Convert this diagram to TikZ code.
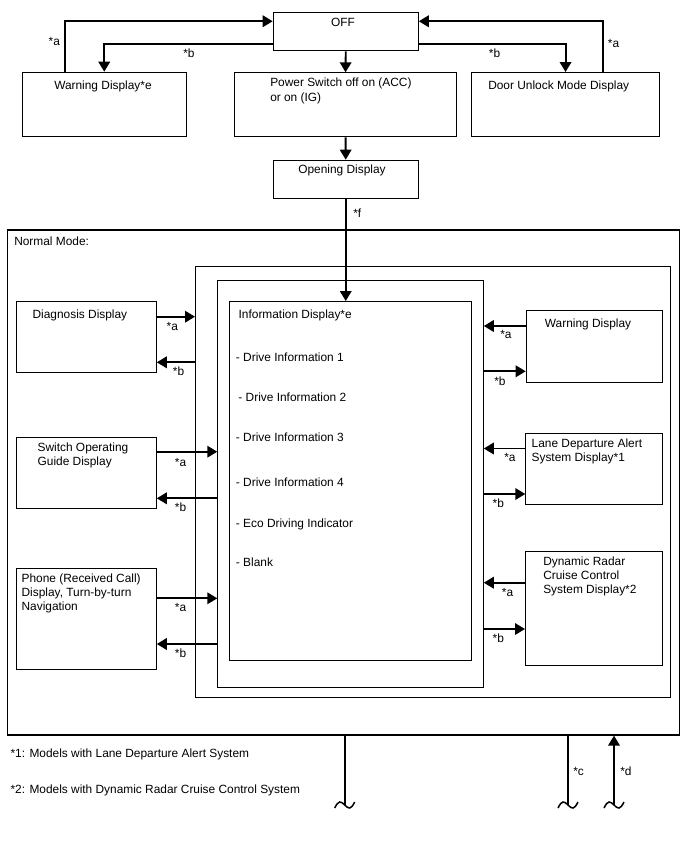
\documentclass[tikz,border=0pt]{standalone}
\usepackage{fontspec}
\setmainfont{Liberation Sans}
\usetikzlibrary{arrows.meta}

\begin{document}
\begin{tikzpicture}[x=1pt, y=-1pt, -{Triangle[length=10pt,width=11.5pt]},
      line width=1.9pt, font=\fontsize{11.9}{14}\selectfont,
      disp/.style={rectangle, draw, line width=1.1pt, anchor=north west, inner sep=0pt},
      txt/.style={anchor=base west, inner sep=0pt, align=left},
      lbl/.style={anchor=base west, inner sep=0pt}]
      \useasboundingbox (0,0) rectangle (688,852);
      % off, warning, power, door, opening
      \node[disp, minimum width=145pt, minimum height=38pt] (off) at (272.7,12.3) {};
      \node[lbl, anchor=base] (off_t) at (343,26.3) {OFF};
      \node[disp, minimum width=164pt, minimum height=64.6pt] (warn_e) at (21.7,71.7) {};
      \node[txt] (warn_e_t) at (53.3,89.5) {Warning Display*e};
      \node[disp, minimum width=221.4pt, minimum height=64pt] (power) at (234.3,72.3) {};
      \node[txt] (power_t) at (269.3,101.6) {Power Switch off on (ACC)\\[1.6pt]or on (IG)};
      \node[disp, minimum width=187.4pt, minimum height=64.3pt] (door) at (471.3,72) {};
      \node[txt] (door_t) at (487.3,89.3) {Door Unlock Mode Display};
      \node[disp, minimum width=145pt, minimum height=38.3pt] (opening) at (272.7,159.7) {};
      \node[lbl, anchor=base] (opening_t) at (342,173.3) {Opening Display};
      \draw ([xshift=-39.4pt]warn_e.north) |- ([yshift=10.6pt]off.west);
      \draw ([yshift=-11.7pt]off.west) -| (warn_e.north);
      \draw (off.south) -- (power.north);
      \draw ([yshift=-11.7pt]off.east) -| (door.north);
      \draw ([xshift=37.3pt]door.north) |- ([yshift=10.6pt]off.east);
      \draw (power.south) -- (opening.north);
      \node[lbl] (a_warn_e) at (47.7,45) {*a};
      \node[lbl] (b_warn_e) at (182.3,57.7) {*b};
      \node[lbl] (b_door) at (488,57.3) {*b};
      \node[lbl] (a_door) at (607,47.7) {*a};
      % normal mode
      \node[disp, line width=1.3pt, minimum width=671.8pt, minimum height=505pt] (normal) at (6.7,229.3) {};
      \node[txt] (normal_t) at (13.3,245) {Normal Mode:};
      \node[disp, minimum width=475pt, minimum height=431.3pt] (outer) at (195,265.7) {};
      \node[disp, minimum width=265.4pt, minimum height=407pt] (middle) at (217.3,279.7) {};
      \node[disp, minimum width=242.3pt, minimum height=358.7pt] (info) at (228.7,301) {};
      \draw (opening.south) -- (opening.south |- info.north);
      \node[lbl] (f_lbl) at (352.3,217) {*f};
      % information display
      \node[txt] (info_t) at (237.7,318.3) {Information Display*e};
      \node[txt] (di_1) at (235,361) {- Drive Information 1};
      \node[txt] (di_2) at (237.5,401) {- Drive Information 2};
      \node[txt] (di_3) at (235,441.6) {- Drive Information 3};
      \node[txt] (di_4) at (235,486.6) {- Drive Information 4};
      \node[txt] (eco) at (235,527.6) {- Eco Driving Indicator};
      \node[txt] (blank) at (235,566) {- Blank};
      % left side
      \node[disp, minimum width=140pt, minimum height=71.6pt] (diag) at (15.7,300.7) {};
      \node[txt] (diag_t) at (31.7,318.3) {Diagnosis Display};
      \node[disp, minimum width=140pt, minimum height=71.6pt] (guide) at (15.7,436.7) {};
      \node[txt] (guide_t) at (36.7,465.3) {Switch Operating\\Guide Display};
      \node[disp, minimum width=140pt, minimum height=101pt] (phone) at (15.7,568.3) {};
      \node[txt] (phone_t) at (20.7,610.6) {Phone (Received Call)\\Display, Turn-by-turn\\Navigation};
      \draw (diag.east |- 0,316.7) -- (outer.west |- 0,316.7);
      \draw (outer.west |- 0,362.3) -- (diag.east |- 0,362.3);
      \draw (guide.east |- 0,451.7) -- (middle.west |- 0,451.7);
      \draw (middle.west |- 0,498.3) -- (guide.east |- 0,498.3);
      \draw (phone.east |- 0,598.3) -- (middle.west |- 0,598.3);
      \draw (middle.west |- 0,644) -- (phone.east |- 0,644);
      \node[lbl] (a_diag) at (165.7,330) {*a};
      \node[lbl] (b_diag) at (172,375.7) {*b};
      \node[lbl] (a_guide) at (174,466.7) {*a};
      \node[lbl] (b_guide) at (174,511.7) {*b};
      \node[lbl] (a_phone) at (174,611.7) {*a};
      \node[lbl] (b_phone) at (174,657.3) {*b};
      % right side
      \node[disp, minimum width=136pt, minimum height=71.4pt] (warn) at (525.7,310.3) {};
      \node[txt] (warn_t) at (544,327.3) {Warning Display};
      \node[disp, minimum width=136.4pt, minimum height=71pt] (lda) at (525.3,433) {};
      \node[txt] (lda_t) at (530.7,461.6) {Lane Departure Alert\\System Display*1};
      \node[disp, minimum width=137pt, minimum height=114.3pt] (drcc) at (525,550.7) {};
      \node[txt] (drcc_t) at (542.3,593) {Dynamic Radar\\Cruise Control\\System Display*2};
      \draw (warn.west |- 0,326) -- (middle.east |- 0,326);
      \draw (middle.east |- 0,371.3) -- (warn.west |- 0,371.3);
      \draw (lda.west |- 0,448.5) -- (middle.east |- 0,448.5);
      \draw (middle.east |- 0,494) -- (lda.west |- 0,494);
      \draw (drcc.west |- 0,582.7) -- (middle.east |- 0,582.7);
      \draw (middle.east |- 0,629) -- (drcc.west |- 0,629);
      \node[lbl] (a_warn) at (499.3,338.3) {*a};
      \node[lbl] (b_warn) at (493.3,385.7) {*b};
      \node[lbl] (a_lda) at (503.3,461.7) {*a};
      \node[lbl] (b_lda) at (491.7,507.7) {*b};
      \node[lbl] (a_drcc) at (501,596) {*a};
      \node[lbl] (b_drcc) at (491.7,642.7) {*b};
      % exits
      \coordinate (cut_m) at (344.7,805);
      \coordinate (cut_c) at (568,805);
      \coordinate (cut_d) at (614,805);
      \draw[-] (normal.south -| cut_m) -- (cut_m);
      \draw[-] (normal.south -| cut_c) -- (cut_c);
      \draw (cut_d) -- (normal.south -| cut_d);
      \foreach \c in {cut_m, cut_c, cut_d}
        \draw[-, line width=1.5pt, shift={(\c)}] (-10,3) .. controls (-6,-5) and (-4,-4) .. (0,0) .. controls (4,4) and (6,5) .. (10,-3);
      \node[lbl] (c_lbl) at (572.4,775) {*c};
      \node[lbl] (d_lbl) at (619.3,775) {*d};
      % notes
      \node[txt] (note_1) at (9.6,757.3) {*1: Models with Lane Departure Alert System};
      \node[txt] (note_2) at (9.6,793.3) {*2: Models with Dynamic Radar Cruise Control System};
\end{tikzpicture}
\end{document}
